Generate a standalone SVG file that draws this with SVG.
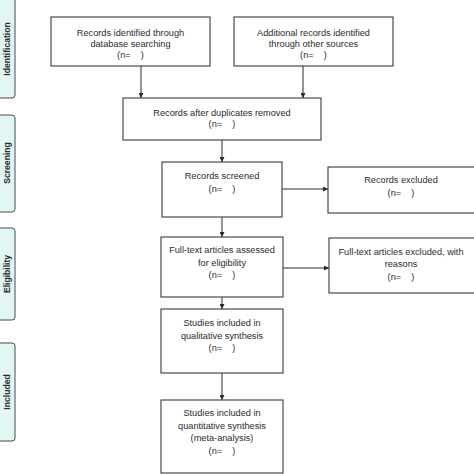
<svg xmlns="http://www.w3.org/2000/svg" width="474" height="474" viewBox="0 0 474 474">
<style>
.box{fill:#fff;stroke:#3a3a3a;stroke-width:1.1}
.side{fill:#e2f6f4;stroke:#4a4a4a;stroke-width:1}
.t{font-family:"Liberation Sans",Arial,sans-serif;font-size:9.2px;fill:#2a2a2a;text-anchor:middle}
.s{font-family:"Liberation Sans",Arial,sans-serif;font-size:8.6px;font-weight:bold;fill:#2a2a2a;text-anchor:middle}
.c{stroke:#2a2a2a;stroke-width:1;fill:none;marker-end:url(#ah)}
</style>
<defs>
<marker id="ah" viewBox="0 0 10 10" refX="10" refY="5" markerWidth="5" markerHeight="5" orient="auto" markerUnits="userSpaceOnUse">
<path d="M0,0 L10,5 L0,10 z" fill="#2a2a2a"/>
</marker>
</defs>
<rect width="474" height="474" fill="#fff"/>
<g id="side-identification"><rect class="side" x="-6" y="-4" width="21" height="102" rx="3"/><text class="s" transform="translate(9.5,49) rotate(-90)">Identification</text></g>
<g id="side-screening"><rect class="side" x="-6" y="115" width="21" height="97" rx="3"/><text class="s" transform="translate(9.5,163) rotate(-90)">Screening</text></g>
<g id="side-eligibility"><rect class="side" x="-6" y="228" width="21" height="92" rx="3"/><text class="s" transform="translate(9.5,274) rotate(-90)">Eligibility</text></g>
<g id="side-included"><rect class="side" x="-6" y="343" width="21" height="98" rx="3"/><text class="s" transform="translate(9.5,392) rotate(-90)">Included</text></g>
<g id="connectors">
<path class="c" d="M141,66 V98"/>
<path class="c" d="M303,66 V98"/>
<path class="c" d="M222,140 V162"/>
<path class="c" d="M282,189 H328"/>
<path class="c" d="M222,217 V237"/>
<path class="c" d="M283,268 H329"/>
<path class="c" d="M222,297 V309"/>
<path class="c" d="M222,373 V400"/>
</g>
<g id="n1"><rect class="box" x="51" y="17" width="159" height="49"/><text class="t" x="130.5" y="36">Records identified through</text><text class="t" x="130.5" y="47">database searching</text><text class="t" x="130.5" y="58">(n=&#160;&#160;&#160;&#160;)</text></g>
<g id="n2"><rect class="box" x="234" y="17" width="159" height="49"/><text class="t" x="313.5" y="36">Additional records identified</text><text class="t" x="313.5" y="47">through other sources</text><text class="t" x="313.5" y="58">(n=&#160;&#160;&#160;&#160;)</text></g>
<g id="n3"><rect class="box" x="123" y="98" width="198" height="42"/><text class="t" x="222" y="116">Records after duplicates removed</text><text class="t" x="222" y="127">(n=&#160;&#160;&#160;&#160;)</text></g>
<g id="n4"><rect class="box" x="162" y="162" width="120" height="55"/><text class="t" x="222" y="179">Records screened</text><text class="t" x="222" y="192">(n=&#160;&#160;&#160;&#160;)</text></g>
<g id="n5"><rect class="box" x="328" y="167" width="150" height="46"/><text class="t" x="401" y="183">Records excluded</text><text class="t" x="401" y="196">(n=&#160;&#160;&#160;&#160;)</text></g>
<g id="n6"><rect class="box" x="161" y="237" width="122" height="60"/><text class="t" x="222" y="253">Full-text articles assessed</text><text class="t" x="222" y="266">for eligibility</text><text class="t" x="222" y="278">(n=&#160;&#160;&#160;&#160;)</text></g>
<g id="n7"><rect class="box" x="329" y="238" width="149" height="55"/><text class="t" x="401" y="255">Full-text articles excluded, with</text><text class="t" x="401" y="267">reasons</text><text class="t" x="401" y="280">(n=&#160;&#160;&#160;&#160;)</text></g>
<g id="n8"><rect class="box" x="161" y="309" width="122" height="64"/><text class="t" x="222" y="326">Studies included in</text><text class="t" x="222" y="339">qualitative synthesis</text><text class="t" x="222" y="351">(n=&#160;&#160;&#160;&#160;)</text></g>
<g id="n9"><rect class="box" x="161" y="400" width="122" height="73"/><text class="t" x="222" y="416">Studies included in</text><text class="t" x="222" y="429">quantitative synthesis</text><text class="t" x="222" y="441">(meta-analysis)</text><text class="t" x="222" y="454">(n=&#160;&#160;&#160;&#160;)</text></g>
</svg>
